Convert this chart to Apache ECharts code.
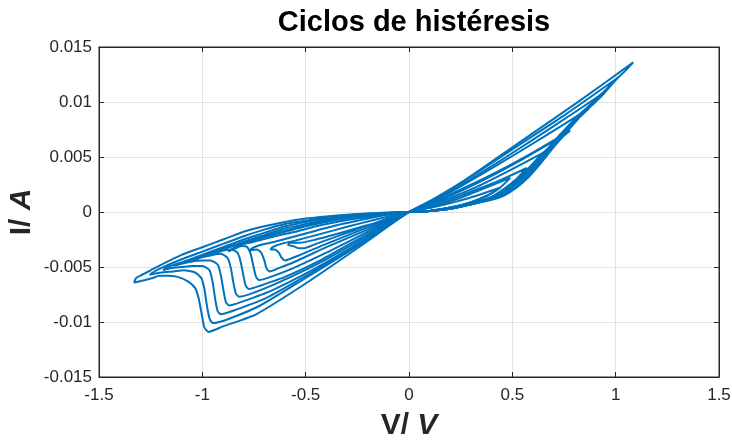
<!DOCTYPE html>
<html>
<head>
<meta charset="utf-8">
<script src="https://cdn.jsdelivr.net/npm/echarts/dist/echarts.min.js"></script>
<style>
  html, body { margin: 0; padding: 0; background: #ffffff; }
  #chart { width: 732px; height: 443px; }
</style>
</head>
<body>
<div id="chart"></div>
<script>
// Axis ticks
const xTicks = [-1.5, -1, -0.5, 0, 0.5, 1, 1.5];
const yTicks = [-0.015, -0.01, -0.005, 0, 0.005, 0.01, 0.015];

// Hysteresis cycles, [V, I] in sweep order (positive half, then negative half)
const loop1 = [
  [0,0],[0.1,0.0001],[0.2,0.0004],[0.3,0.0009],[0.38,0.0015],[0.44,0.0022],
  [0.33,0.0015],[0.22,0.0009],[0.11,0.0004],[0,0],
  [-0.15,-0.0009],[-0.3,-0.0019],[-0.45,-0.0029],[-0.51,-0.0033],
  [-0.535,-0.0033],[-0.56,-0.0031],[-0.585,-0.0030],
  [-0.575,-0.0028],[-0.53,-0.0028],[-0.45,-0.0025],[-0.35,-0.0020],[-0.24,-0.0014],[-0.12,-0.0008],[0,0]
];
const loop2 = [
  [0,0],[0.1,0.0001],[0.2,0.0004],[0.3,0.0009],[0.38,0.0015],[0.44,0.0022],[0.49,0.0031],
  [0.37,0.0022],[0.25,0.0013],[0.12,0.0005],[0,0],
  [-0.2,-0.0014],[-0.4,-0.0029],[-0.54,-0.0040],[-0.6,-0.0044],
  [-0.615,-0.0042],[-0.63,-0.0037],[-0.65,-0.0034],[-0.67,-0.0034],
  [-0.66,-0.0032],[-0.62,-0.0029],[-0.55,-0.0026],[-0.45,-0.0021],[-0.35,-0.0016],[-0.25,-0.0011],[-0.12,-0.0005],[0,0]
];
const loop3 = [
  [0,0],[0.1,0.0001],[0.2,0.0004],[0.3,0.0008],[0.4,0.0014],[0.46,0.0021],[0.52,0.0030],[0.57,0.0040],
  [0.43,0.0028],[0.28,0.0017],[0.14,0.0007],[0,0],
  [-0.2,-0.0016],[-0.4,-0.0032],[-0.55,-0.0045],[-0.63,-0.0051],[-0.675,-0.0054],
  [-0.69,-0.0051],[-0.70,-0.0044],[-0.715,-0.0037],[-0.735,-0.0034],[-0.77,-0.0035],
  [-0.76,-0.0033],[-0.72,-0.0030],[-0.65,-0.0027],[-0.55,-0.0022],[-0.45,-0.0017],[-0.35,-0.0012],[-0.25,-0.0008],[-0.12,-0.0003],[0,0]
];
const loop4 = [
  [0,0],[0.1,0.0001],[0.2,0.0004],[0.3,0.0008],[0.4,0.0013],[0.46,0.0019],[0.52,0.0029],[0.58,0.0040],[0.62,0.0047],[0.65,0.0054],
  [0.49,0.0038],[0.33,0.0023],[0.16,0.0010],[0,0],
  [-0.2,-0.0018],[-0.4,-0.0037],[-0.56,-0.0051],[-0.67,-0.0059],[-0.725,-0.0062],
  [-0.74,-0.0059],[-0.752,-0.0050],[-0.765,-0.0039],[-0.782,-0.0032],[-0.81,-0.0031],
  [-0.84,-0.0033],[-0.875,-0.0036],
  [-0.86,-0.0034],[-0.82,-0.0030],[-0.75,-0.0027],[-0.65,-0.0022],[-0.55,-0.0018],[-0.45,-0.0013],[-0.35,-0.0009],[-0.25,-0.0006],[-0.12,-0.00025],[0,0]
];
const loop5 = [
  [0,0],[0.1,0.0001],[0.2,0.0003],[0.3,0.0007],[0.4,0.0012],[0.46,0.0019],[0.52,0.0028],[0.58,0.0040],[0.64,0.0052],[0.68,0.0059],[0.715,0.0066],
  [0.54,0.0047],[0.36,0.0029],[0.18,0.0013],[0.09,0.0006],[0,0],
  [-0.21,-0.0021],[-0.42,-0.0043],[-0.6,-0.0059],[-0.72,-0.0067],[-0.775,-0.0070],
  [-0.79,-0.0067],[-0.802,-0.0057],[-0.815,-0.0045],[-0.83,-0.0037],[-0.86,-0.0034],
  [-0.9,-0.0035],[-0.93,-0.0037],[-0.965,-0.0039],
  [-0.95,-0.0037],[-0.9,-0.0033],[-0.8,-0.0029],[-0.7,-0.0023],[-0.6,-0.0018],[-0.5,-0.0013],[-0.4,-0.0009],[-0.3,-0.0006],[-0.15,-0.00025],[0,0]
];
const loop6 = [
  [0,0],[0.1,0.0001],[0.2,0.0003],[0.3,0.0007],[0.4,0.0012],[0.46,0.0018],[0.52,0.0027],[0.58,0.0039],[0.64,0.0052],[0.7,0.0062],[0.74,0.0068],[0.78,0.0074],
  [0.58,0.0052],[0.39,0.0033],[0.2,0.0016],[0.1,0.0007],[0,0],
  [-0.22,-0.0024],[-0.44,-0.0047],[-0.63,-0.0064],[-0.76,-0.0074],[-0.822,-0.0077],
  [-0.838,-0.0074],[-0.85,-0.0064],[-0.862,-0.0051],[-0.877,-0.0042],[-0.91,-0.0038],
  [-0.95,-0.0039],[-1.0,-0.0041],[-1.055,-0.0045],
  [-1.035,-0.0042],[-0.98,-0.0038],[-0.9,-0.0033],[-0.8,-0.0028],[-0.7,-0.0022],[-0.6,-0.0017],[-0.5,-0.0012],[-0.4,-0.0008],[-0.3,-0.0005],[-0.15,-0.0002],[0,0]
];
const loop7 = [
  [0,0],[0.1,0.0001],[0.2,0.0003],[0.3,0.0007],[0.4,0.0012],[0.46,0.0017],[0.52,0.0026],[0.58,0.0037],[0.64,0.0050],[0.7,0.0064],[0.76,0.0076],[0.82,0.0086],[0.87,0.0094],
  [0.65,0.0068],[0.43,0.0043],[0.22,0.0020],[0.1,0.0008],[0,0],
  [-0.23,-0.0027],[-0.46,-0.0052],[-0.66,-0.0071],[-0.8,-0.0081],[-0.87,-0.0085],
  [-0.886,-0.0082],[-0.898,-0.0071],[-0.91,-0.0058],[-0.925,-0.0048],[-0.96,-0.0044],
  [-1.0,-0.0044],[-1.05,-0.0045],[-1.1,-0.0047],[-1.14,-0.0049],
  [-1.12,-0.0047],[-1.05,-0.0043],[-1.0,-0.0040],[-0.9,-0.0034],[-0.8,-0.0027],[-0.7,-0.0021],[-0.6,-0.0015],[-0.5,-0.0011],[-0.4,-0.0007],[-0.3,-0.0004],[-0.15,-0.00015],[0,0]
];
const loop8 = [
  [0,0],[0.1,0.0001],[0.2,0.0003],[0.3,0.0007],[0.4,0.0012],[0.46,0.0017],[0.52,0.0025],[0.58,0.0036],[0.64,0.0049],[0.7,0.0063],[0.76,0.0076],[0.82,0.0088],[0.88,0.0098],[0.94,0.0108],
  [0.7,0.0078],[0.47,0.0050],[0.24,0.0023],[0.12,0.0010],[0,0],
  [-0.24,-0.0029],[-0.48,-0.0056],[-0.69,-0.0078],[-0.84,-0.0089],[-0.91,-0.0093],
  [-0.926,-0.0090],[-0.938,-0.0079],[-0.95,-0.0064],[-0.965,-0.0053],[-1.0,-0.0049],
  [-1.05,-0.0049],[-1.1,-0.0050],[-1.15,-0.0051],[-1.19,-0.0053],
  [-1.17,-0.0050],[-1.1,-0.0046],[-1.0,-0.0039],[-0.9,-0.0032],[-0.8,-0.0025],[-0.7,-0.0019],[-0.6,-0.0013],[-0.5,-0.0009],[-0.4,-0.0006],[-0.3,-0.0004],[-0.15,-0.00015],[0,0]
];
const loop9 = [
  [0,0],[0.1,0.0001],[0.2,0.0003],[0.3,0.0007],[0.4,0.0012],[0.46,0.0016],[0.52,0.0023],[0.58,0.0034],[0.64,0.0047],[0.7,0.0061],[0.76,0.0074],[0.82,0.0087],[0.88,0.0098],[0.94,0.0109],[1.01,0.0122],
  [0.76,0.0089],[0.5,0.0057],[0.25,0.0026],[0.12,0.0011],[0,0],
  [-0.25,-0.0031],[-0.5,-0.0060],[-0.72,-0.0085],[-0.87,-0.0097],[-0.948,-0.0101],
  [-0.965,-0.0097],[-0.978,-0.0085],[-0.99,-0.0070],[-1.005,-0.0060],[-1.035,-0.0055],
  [-1.09,-0.0053],[-1.14,-0.0054],[-1.2,-0.0055],[-1.255,-0.0057],
  [-1.24,-0.0055],[-1.2,-0.0051],[-1.1,-0.0043],[-1.0,-0.0036],[-0.9,-0.0029],[-0.8,-0.0022],[-0.7,-0.0016],[-0.6,-0.0011],[-0.5,-0.0008],[-0.4,-0.0005],[-0.3,-0.0003],[-0.15,-0.0001],[0,0]
];
const loop10 = [
  [0,0],[0.1,0.0001],[0.2,0.0003],[0.3,0.0007],[0.4,0.0011],[0.46,0.0015],[0.52,0.0022],[0.58,0.0032],[0.64,0.0045],[0.7,0.0059],[0.76,0.0072],[0.82,0.0085],[0.88,0.0096],[0.94,0.0107],[1.0,0.0120],[1.05,0.0129],[1.085,0.0136],
  [0.81,0.0099],[0.54,0.0064],[0.27,0.0029],[0.12,0.0012],[0,0],
  [-0.25,-0.0033],[-0.5,-0.0065],[-0.74,-0.0093],[-0.9,-0.0104],[-0.97,-0.0109],
  [-0.99,-0.0105],[-1.003,-0.0093],[-1.017,-0.0079],[-1.035,-0.0069],[-1.07,-0.0063],
  [-1.12,-0.0059],[-1.17,-0.0058],[-1.21,-0.0058],[-1.24,-0.0060],[-1.28,-0.0062],[-1.33,-0.0064],
  [-1.32,-0.0060],[-1.29,-0.0057],[-1.25,-0.0053],[-1.2,-0.0048],[-1.1,-0.0039],[-1.0,-0.0032],[-0.9,-0.0025],[-0.8,-0.0018],[-0.7,-0.0013],[-0.6,-0.0009],[-0.5,-0.0006],[-0.4,-0.0004],[-0.3,-0.00025],[-0.2,-0.00013],[-0.1,-0.00005],[0,0]
];

const loops = [loop1, loop2, loop3, loop4, loop5, loop6, loop7, loop8, loop9, loop10];

const FONT = 'Liberation Sans, Arial, Helvetica, sans-serif';
const LINE = '#0072BD';
const INK = '#262626';

const fmt = v => String(Math.round(v * 1000) / 1000);

const baseX = {
  type: 'value',
  min: xTicks[0], max: xTicks[xTicks.length - 1], interval: xTicks[1] - xTicks[0]
};
const baseY = {
  type: 'value',
  min: yTicks[0], max: yTicks[yTicks.length - 1], interval: yTicks[1] - yTicks[0]
};

const chart = echarts.init(document.getElementById('chart'), null, { renderer: 'canvas' });

chart.setOption({
  animation: false,
  backgroundColor: '#ffffff',
  title: {
    text: 'Ciclos de histéresis',
    left: 409, top: 3, textAlign: 'center',
    textStyle: { fontFamily: FONT, fontWeight: 'bold', fontSize: 29, color: '#000000' }
  },
  grid: {
    left: 99, right: 13, top: 47, bottom: 66,
    containLabel: false, outerBoundsMode: 'none',
    show: true, borderColor: INK, borderWidth: 1
  },
  xAxis: [
    Object.assign({}, baseX, {
      position: 'bottom',
      name: '{u|V/ }{i|V}', nameLocation: 'middle', nameGap: 34, nameMoveOverlap: false,
      nameTextStyle: { rich: {
        u: { fontFamily: FONT, fontWeight: 'bold', fontSize: 30, color: INK },
        i: { fontFamily: FONT, fontWeight: 'bold', fontStyle: 'italic', fontSize: 30, color: INK }
      } },
      axisLine: { show: true, onZero: false, lineStyle: { color: INK, width: 1 } },
      axisTick: { show: true, inside: true, length: 5, lineStyle: { color: INK } },
      axisLabel: { fontFamily: FONT, fontSize: 17, color: INK, margin: 10, formatter: fmt },
      splitLine: { show: true, lineStyle: { color: '#e3e3e3', width: 1 } }
    }),
    Object.assign({}, baseX, {
      position: 'top',
      axisLine: { show: true, onZero: false, lineStyle: { color: INK, width: 1 } },
      axisTick: { show: true, inside: true, length: 5, lineStyle: { color: INK } },
      axisLabel: { show: false },
      splitLine: { show: false }
    })
  ],
  yAxis: [
    Object.assign({}, baseY, {
      position: 'left',
      name: '{u|I/ }{i|A}', nameLocation: 'middle', nameGap: 62, nameRotate: 90, nameMoveOverlap: false,
      nameTextStyle: { rich: {
        u: { fontFamily: FONT, fontWeight: 'bold', fontSize: 30, color: INK },
        i: { fontFamily: FONT, fontWeight: 'bold', fontStyle: 'italic', fontSize: 30, color: INK }
      } },
      axisLine: { show: true, onZero: false, lineStyle: { color: INK, width: 1 } },
      axisTick: { show: true, inside: true, length: 5, lineStyle: { color: INK } },
      axisLabel: { fontFamily: FONT, fontSize: 17, color: INK, margin: 7, formatter: fmt },
      splitLine: { show: true, lineStyle: { color: '#e3e3e3', width: 1 } }
    }),
    Object.assign({}, baseY, {
      position: 'right',
      axisLine: { show: true, onZero: false, lineStyle: { color: INK, width: 1 } },
      axisTick: { show: true, inside: true, length: 5, lineStyle: { color: INK } },
      axisLabel: { show: false },
      splitLine: { show: false }
    })
  ],
  series: loops.map((pts, k) => ({
    name: 'ciclo ' + (k + 1),
    type: 'line',
    xAxisIndex: 0, yAxisIndex: 0,
    data: pts,
    showSymbol: false,
    symbol: 'none',
    smooth: 0.2,
    clip: true,
    lineStyle: { color: LINE, width: 2 },
    emphasis: { disabled: true }
  }))
});
</script>
</body>
</html>
